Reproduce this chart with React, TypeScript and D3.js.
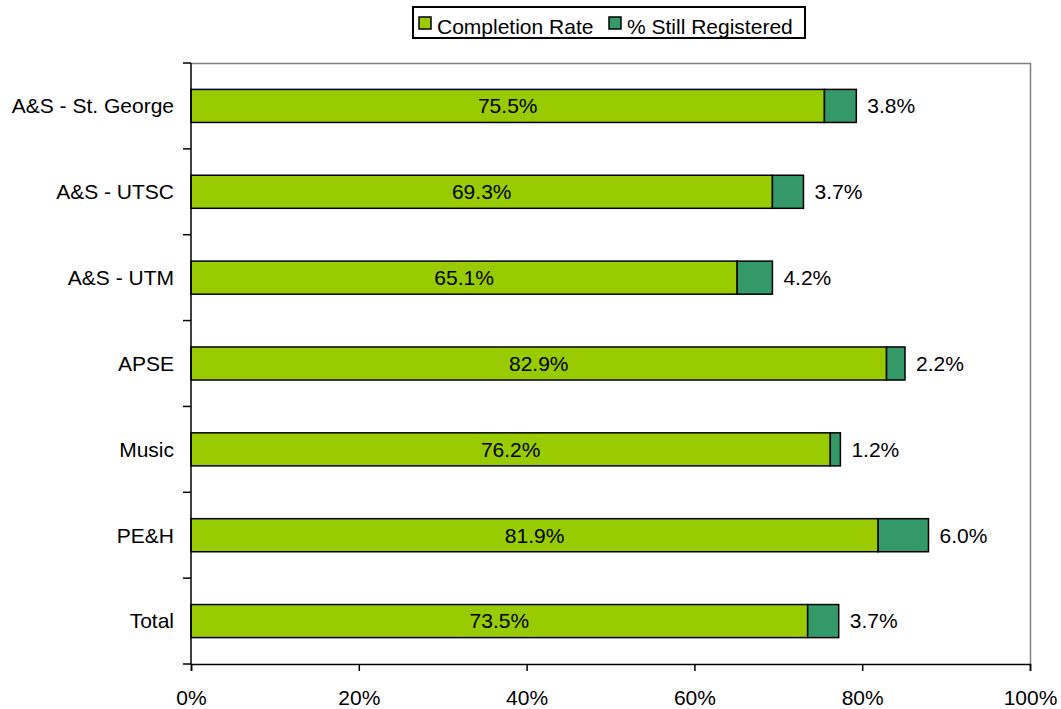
import { useEffect, useRef } from 'react'
import * as d3 from 'd3'

const categories = ['A&S - St. George', 'A&S - UTSC', 'A&S - UTM', 'APSE', 'Music', 'PE&H', 'Total']
const completionRate = [75.5, 69.3, 65.1, 82.9, 76.2, 81.9, 73.5]
const stillRegistered = [3.8, 3.7, 4.2, 2.2, 1.2, 6.0, 3.7]
const xTicks = [0, 20, 40, 60, 80, 100]
const seriesNames = ['Completion Rate', '% Still Registered']
const seriesColors = ['#99cc00', '#339966']

export default function App() {
  const svgRef = useRef<SVGSVGElement>(null)

  useEffect(() => {
    if (!svgRef.current) return
    const svg = d3.select(svgRef.current)
    svg.selectAll('*').remove()

    const font = 'Liberation Sans, Arial, sans-serif'
    const fontSize = 21
    const margin = { top: 63, right: 31, bottom: 45, left: 191 }
    const width = 1061
    const height = 709
    const innerWidth = width - margin.left - margin.right
    const innerHeight = height - margin.top - margin.bottom

    const x = d3.scaleLinear().domain([0, 100]).range([0, innerWidth])
    const y = d3.scaleBand().domain(categories).range([0, innerHeight]).paddingInner(0.615).paddingOuter(0.3075)

    const g = svg.append('g').attr('transform', `translate(${margin.left},${margin.top})`)

    // plot frame (top and right grey)
    g.append('path')
      .attr('d', `M0,0.5H${innerWidth + 0.5}V${innerHeight}`)
      .attr('fill', 'none')
      .attr('stroke', '#808080')
      .attr('stroke-width', 1.5)

    const data = categories.map((c, i) => ({ cat: c, a: completionRate[i], b: stillRegistered[i] }))

    const rows = g.selectAll('g.row').data(data).join('g').attr('class', 'row')
      .attr('transform', d => `translate(0,${y(d.cat)})`)

    rows.append('rect')
      .attr('x', 0)
      .attr('y', 0)
      .attr('width', d => x(d.a))
      .attr('height', y.bandwidth())
      .attr('fill', seriesColors[0])
      .attr('stroke', '#000')
      .attr('stroke-width', 1.5)

    rows.append('rect')
      .attr('x', d => x(d.a))
      .attr('y', 0)
      .attr('width', d => x(d.a + d.b) - x(d.a))
      .attr('height', y.bandwidth())
      .attr('fill', seriesColors[1])
      .attr('stroke', '#000')
      .attr('stroke-width', 1.5)

    rows.append('text')
      .attr('x', d => x(d.a) / 2)
      .attr('y', y.bandwidth() / 2)
      .attr('dy', '0.35em')
      .attr('text-anchor', 'middle')
      .attr('font-family', font)
      .attr('font-size', fontSize)
      .attr('fill', '#000')
      .text(d => d.a.toFixed(1) + '%')

    rows.append('text')
      .attr('x', d => x(d.a + d.b) + 11)
      .attr('y', y.bandwidth() / 2)
      .attr('dy', '0.35em')
      .attr('font-family', font)
      .attr('font-size', fontSize)
      .attr('fill', '#000')
      .text(d => d.b.toFixed(1) + '%')

    // y axis
    const yAxis = g.append('g')
    yAxis.append('line')
      .attr('x1', 0).attr('x2', 0).attr('y1', 0).attr('y2', innerHeight)
      .attr('stroke', '#000').attr('stroke-width', 1.5)
    const boundaries = d3.range(categories.length + 1).map(i => i * (innerHeight / categories.length))
    yAxis.selectAll('line.tick').data(boundaries).join('line')
      .attr('class', 'tick')
      .attr('x1', -8).attr('x2', 0)
      .attr('y1', d => d).attr('y2', d => d)
      .attr('stroke', '#000').attr('stroke-width', 1.5)
    yAxis.selectAll('text').data(categories).join('text')
      .attr('x', -17)
      .attr('y', d => (y(d) ?? 0) + y.bandwidth() / 2)
      .attr('dy', '0.35em')
      .attr('text-anchor', 'end')
      .attr('font-family', font)
      .attr('font-size', fontSize)
      .attr('fill', '#000')
      .text(d => d)

    // x axis
    const xAxis = d3.axisBottom(x).tickValues(xTicks).tickSize(7).tickPadding(19).tickFormat(d => `${d}%`)
    g.append('g')
      .attr('transform', `translate(0,${innerHeight})`)
      .call(xAxis)
      .call(s => s.select('.domain').attr('stroke', '#000').attr('stroke-width', 1.5))
      .call(s => s.selectAll('.tick line').attr('stroke', '#000').attr('stroke-width', 1.5))
      .call(s => s.selectAll('.tick text')
        .attr('fill', '#000')
        .attr('font-family', font)
        .attr('font-size', fontSize))

    // legend
    const legend = svg.append('g').attr('transform', 'translate(413,7)')
    legend.append('rect')
      .attr('x', 0).attr('y', 0).attr('width', 392).attr('height', 31)
      .attr('fill', '#fff').attr('stroke', '#000').attr('stroke-width', 2)
    const legendX = [6, 196]
    seriesNames.forEach((name, i) => {
      legend.append('rect')
        .attr('x', legendX[i]).attr('y', 10).attr('width', 12).attr('height', 12)
        .attr('fill', seriesColors[i]).attr('stroke', '#000').attr('stroke-width', 1.5)
      legend.append('text')
        .attr('x', legendX[i] + 18)
        .attr('y', 20)
        .attr('dy', '0.35em')
        .attr('font-family', font)
        .attr('font-size', fontSize)
        .attr('fill', '#000')
        .text(name)
    })
  }, [])

  return (
    <svg
      ref={svgRef}
      width={1061}
      height={709}
      style={{ position: 'absolute', left: 0, top: 0, background: '#fff' }}
    />
  )
}
